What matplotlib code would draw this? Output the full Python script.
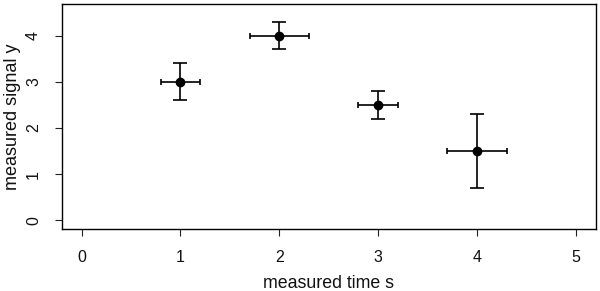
import matplotlib
matplotlib.use("Agg")
import matplotlib.pyplot as plt

x = [1, 2, 3, 4]
y = [3.0, 4.0, 2.5, 1.5]
x_err = [0.2, 0.3, 0.2, 0.3]
y_err = [0.4, 0.3, 0.3, 0.8]
x_ticks = [0, 1, 2, 3, 4, 5]
y_ticks = [0, 1, 2, 3, 4]

plt.rcParams['font.family'] = ['Liberation Sans', 'DejaVu Sans']
fig = plt.figure(figsize=(6, 2.91), dpi=100)
ax = fig.add_axes([0.103, 0.214, 0.890, 0.772])

ax.errorbar(x, y, yerr=y_err, fmt='none', ecolor='black', elinewidth=1.2, capsize=5.0, capthick=1.2)
ax.errorbar(x, y, xerr=x_err, fmt='none', ecolor='black', elinewidth=1.2, capsize=2.2, capthick=1.2)
ax.plot(x, y, 'o', color='black', markersize=6)

ax.set_xlim(-0.2, 5.2)
ax.set_ylim(-0.18, 4.68)
ax.set_xticks(x_ticks)
ax.set_yticks(y_ticks)
ax.set_yticklabels([str(t) for t in y_ticks], rotation=90, va='center')
ax.tick_params(direction='out', length=5, width=0.8, labelsize=11.5, pad=10, colors='#222222', labelcolor='#111111')
for s in ax.spines.values():
    s.set_linewidth(1.0)
ax.set_xlabel('measured time s', fontsize=12.8, color='#111111')
ax.set_ylabel('measured signal y', fontsize=13.0, color='#111111')
ax.xaxis.set_label_coords(0.5, -0.205)
ax.yaxis.set_label_coords(-0.077, 0.5)

fig.savefig('out.png', dpi=100)
